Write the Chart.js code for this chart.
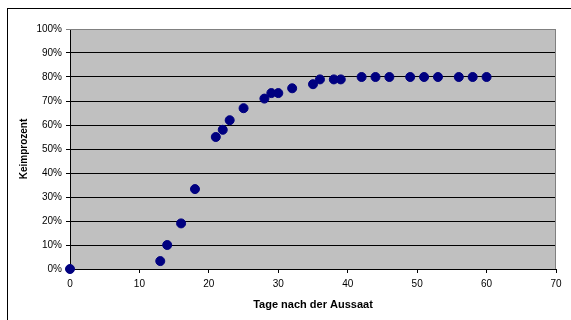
<!DOCTYPE html>
<html>
<head>
<meta charset="utf-8">
<script src="https://cdn.jsdelivr.net/npm/chart.js@4"></script>
<style>
  html, body { margin: 0; padding: 0; background: #fff; }
  #wrap { width: 571px; height: 320px; }
</style>
</head>
<body>
<div id="wrap"><canvas id="myChart" width="571" height="320"></canvas></div>
<script>
const tage = [0, 13, 14, 16, 18, 21, 22, 23, 25, 28, 29, 30, 32, 35, 36, 38, 39, 42, 44, 46, 49, 51, 53, 56, 58, 60];
const keimprozent = [0, 3.3, 10, 19, 33.3, 55, 58, 62, 67, 71, 73.3, 73.3, 75.3, 77, 79, 79, 79, 80, 80, 80, 80, 80, 80, 80, 80, 80];

const punkte = tage.map((t, i) => ({ x: t, y: keimprozent[i] }));

const hintergrund = {
  id: 'hintergrund',
  beforeDraw(chart) {
    const c = chart.ctx;
    const a = chart.chartArea;
    c.save();
    c.fillStyle = '#fff';
    c.fillRect(0, 0, chart.width, chart.height);
    c.fillStyle = '#c0c0c0';
    c.fillRect(a.left, a.top, a.right - a.left, a.bottom - a.top);
    c.strokeStyle = '#000';
    c.lineWidth = 1;
    c.strokeRect(7.5, 8.5, 700, 400);
    c.restore();
  },
  beforeDatasetsDraw(chart) {
    const c = chart.ctx;
    const a = chart.chartArea;
    c.save();
    c.strokeStyle = '#808080';
    c.lineWidth = 1;
    c.beginPath();
    c.moveTo(a.left, a.top + 0.5);
    c.lineTo(a.right - 0.5, a.top + 0.5);
    c.lineTo(a.right - 0.5, a.bottom);
    c.stroke();
    c.restore();
  }
};

const ctx = document.getElementById('myChart');
new Chart(ctx, {
  type: 'scatter',
  data: {
    datasets: [{
      data: punkte,
      backgroundColor: '#000080',
      borderColor: '#000080',
      pointRadius: 4.5,
      pointHoverRadius: 4.5,
      clip: false
    }]
  },
  plugins: [hintergrund],
  options: {
    responsive: false,
    animation: false,
    layout: { padding: { left: 0, right: 15, top: 29, bottom: 0 } },
    plugins: { legend: { display: false }, tooltip: { enabled: false } },
    scales: {
      x: {
        type: 'linear',
        min: 0,
        max: 70,
        afterFit(s) { s.height = 51; },
        ticks: {
          stepSize: 10,
          color: '#000',
          padding: 5,
          font: { family: 'Liberation Sans', size: 10 },
          maxRotation: 0
        },
        grid: { drawOnChartArea: false, drawTicks: true, tickLength: 4, color: '#000' },
        border: { color: '#000', width: 1 },
        title: {
          display: true,
          text: 'Tage nach der Aussaat',
          color: '#000',
          font: { family: 'Liberation Sans', size: 11, weight: 'bold' },
          padding: { top: 6, bottom: 8 }
        }
      },
      y: {
        min: 0,
        max: 100,
        afterFit(s) { s.width = 70; },
        ticks: {
          stepSize: 10,
          color: '#000',
          padding: 4,
          font: { family: 'Liberation Sans', size: 10 },
          callback: (v) => v + '%'
        },
        grid: {
          tickLength: 4,
          color: (c) => c.tick && c.tick.value === 100 ? '#808080' : '#000'
        },
        border: { color: '#000', width: 1 },
        title: {
          display: true,
          text: 'Keimprozent',
          color: '#000',
          font: { family: 'Liberation Sans', size: 10, weight: 'bold' },
          padding: { top: 18, bottom: 0 }
        }
      }
    }
  }
});
</script>
</body>
</html>
